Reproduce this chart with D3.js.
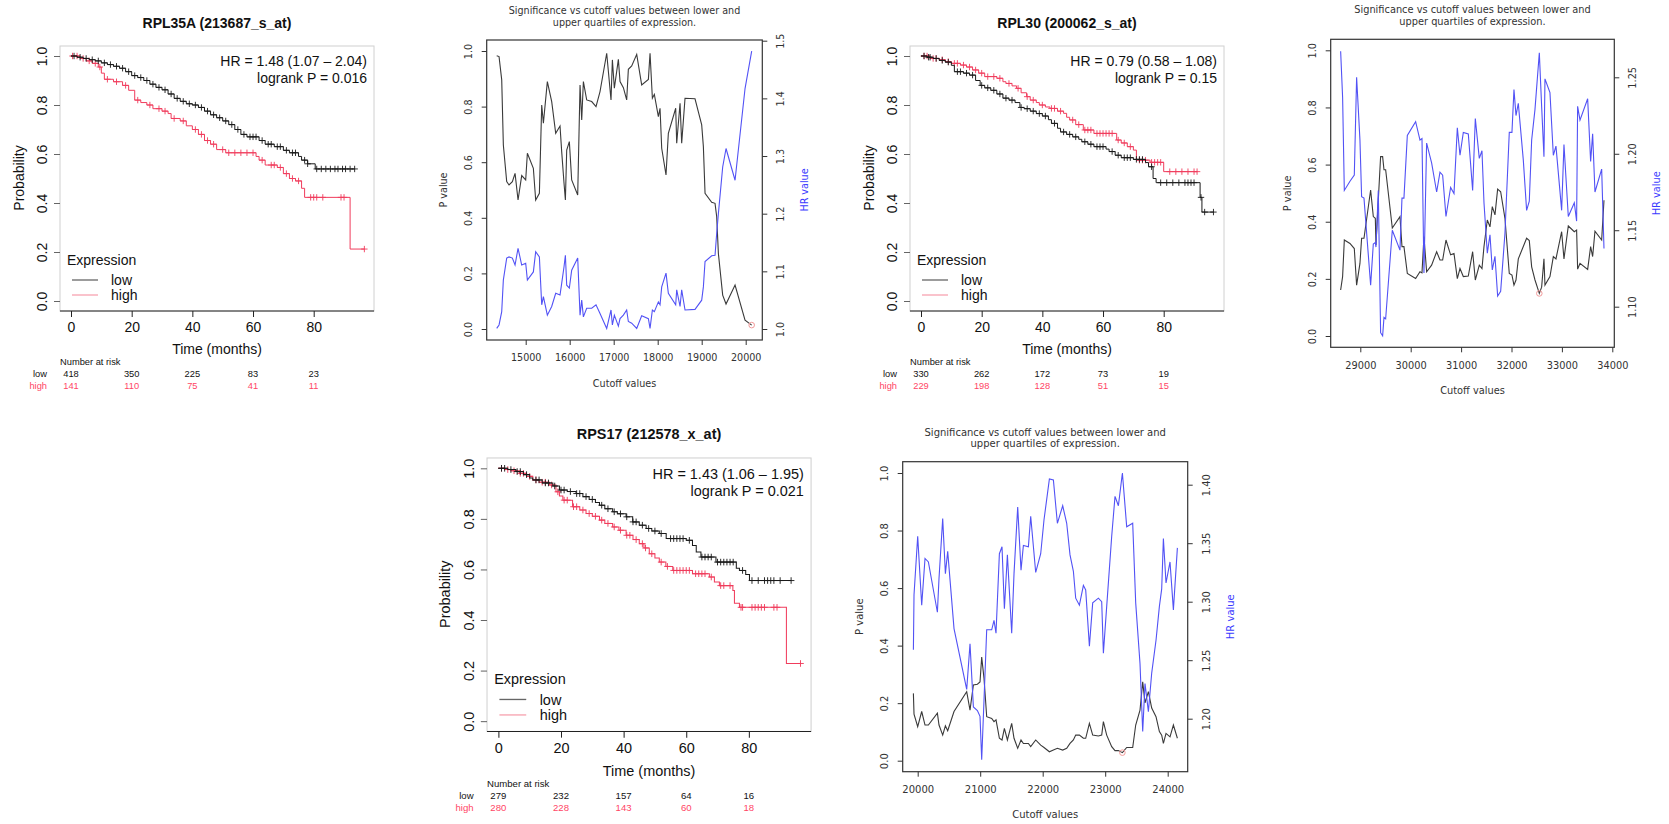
<!DOCTYPE html>
<html>
<head>
<meta charset="utf-8">
<title>Survival plots and cutoff scans</title>
<script src="https://d3js.org/d3.v7.min.js"></script>
<style>
  body { margin: 0; background: #fff; }
  .km text { font-family: "Liberation Sans", Arial, sans-serif; fill: #111; }
  .cut text { font-family: "DejaVu Sans", sans-serif; fill: #333; }
</style>
</head>
<body>
<div id="chart"></div>
<script>

// ---------- Kaplan-Meier data: steps [months, survival], censor times ----------
var riskTimes = [0, 20, 40, 60, 80];
var kmTicksY = [0, 0.2, 0.4, 0.6, 0.8, 1];

var km1Title = "RPL35A (213687_s_at)";
var km1Stats = ["HR = 1.48 (1.07 \u2013 2.04)", "logrank P = 0.016"];
var km1Low = [[0,1],[2,0.995],[4,0.99],[6,0.985],[8,0.98],[10,0.972],[12,0.965],[14,0.958],[16,0.95],[18,0.936],[20,0.92],[22,0.912],[24,0.9],[26,0.885],[28,0.872],[30,0.862],[32,0.845],[34,0.827],[36,0.815],[38,0.805],[40,0.8],[42,0.79],[44,0.775],[46,0.76],[48,0.748],[50,0.735],[52,0.72],[54,0.7],[56,0.68],[58,0.67],[62,0.655],[64,0.64],[67,0.63],[70,0.615],[72,0.605],[75,0.59],[76,0.575],[78,0.56],[80.5,0.539]];
var km1LowCens = [1,3,5,7,9,11,13,15,17,19,21,23,25,27,29,31,33,35,37,39,41,43,45,47,49,51,53,55,57,59,60,61,63,65,66,68,69,71,73,74,77,78,81,82.5,84,85.5,87,88,89.5,90.5,92,93.5];
var km1High = [[0,1],[3,0.99],[5,0.98],[7,0.97],[9,0.955],[10,0.93],[11,0.905],[14,0.895],[17,0.88],[19,0.86],[21,0.82],[23,0.81],[25,0.8],[27,0.785],[30,0.775],[32,0.765],[33,0.745],[36,0.735],[38,0.715],[40,0.7],[42,0.68],[44,0.655],[46,0.64],[48,0.618],[51,0.605],[61,0.59],[62,0.575],[64,0.555],[68,0.545],[70,0.52],[72,0.5],[74,0.49],[76,0.46],[77,0.423],[92,0.212]];
var km1HighCens = [0.5,2,4,6,8,9.5,12,15,18,22,26,29,31,34,37,41,43,45,47,50,52,54,56,58,60,63,66,67,69,71,73,75,79,80,81,83,89,90,96.7];
var km1RiskLow = [418, 350, 225, 83, 23];
var km1RiskHigh = [141, 110, 75, 41, 11];

var km2Title = "RPL30 (200062_s_at)";
var km2Stats = ["HR = 0.79 (0.58 \u2013 1.08)", "logrank P = 0.15"];
var km2Low = [[0,1],[2,0.995],[4,0.99],[6,0.982],[8,0.975],[10,0.962],[11,0.936],[14,0.93],[16,0.922],[18,0.9],[19.5,0.88],[21,0.87],[23,0.86],[25,0.845],[27,0.828],[29,0.82],[31,0.81],[32.6,0.79],[34,0.785],[36,0.775],[38,0.765],[40,0.755],[42,0.74],[43,0.725],[45,0.705],[46,0.69],[48,0.68],[50,0.67],[52,0.66],[53,0.65],[55,0.64],[57,0.63],[61,0.62],[62,0.61],[64,0.595],[66,0.585],[70,0.578],[74,0.565],[75,0.548],[76.5,0.5],[77.5,0.483],[92,0.423],[92.6,0.363]];
var km2LowCens = [1,2.5,3,5,7,9,12,13,15,17,20,22,24,26,28,30,33,35,37,39,41,44,47,49,51,54,56,58,59,60,63,65,67,68,69,71,72,73,76,79,81,83,85,87,88,89,90,92.3,93.5,96.4];
var km2High = [[0,1],[3,0.99],[6,0.985],[8,0.977],[10,0.97],[13,0.963],[15,0.955],[17,0.943],[19,0.93],[21,0.916],[25,0.909],[27,0.895],[28,0.888],[30,0.878],[31.5,0.868],[33,0.85],[34.8,0.834],[36,0.82],[38,0.81],[39,0.8],[41,0.792],[42.5,0.786],[45,0.775],[47,0.766],[48,0.75],[49,0.739],[51,0.72],[53.5,0.698],[57,0.684],[64.5,0.657],[66,0.645],[68,0.63],[70,0.616],[71,0.575],[75.5,0.566],[80,0.528]];
var km2HighCens = [1,2,4,5,7,9,11,12,14,16,18,20,22,24,26,29,32,35,37,40,43,44,46,50,52,54,55,56,58,59,60,61,62,63,65,67,69,72,73,74,76,77,78,79,82,84,86,88,90,91];
var km2RiskLow = [330, 262, 172, 73, 19];
var km2RiskHigh = [229, 198, 128, 51, 15];

var km3Title = "RPS17 (212578_x_at)";
var km3Stats = ["HR = 1.43 (1.06 \u2013 1.95)", "logrank P = 0.021"];
var km3Low = [[0,1],[3,0.995],[5.6,0.987],[8,0.975],[10,0.962],[11,0.954],[14,0.942],[17.4,0.93],[19.5,0.914],[22,0.908],[24.8,0.9],[27,0.888],[29,0.877],[31,0.865],[32.3,0.854],[34,0.84],[36.5,0.828],[38,0.82],[40.8,0.808],[42.9,0.788],[45,0.775],[47.2,0.762],[49,0.752],[51.4,0.742],[53.6,0.722],[60,0.715],[62,0.695],[63.2,0.669],[64.7,0.649],[69.5,0.629],[76,0.605],[77,0.596],[79,0.58],[80.2,0.556]];
var km3LowCens = [1,2,4,6,7,9,12,13,15,16,18,20,21,23,25,26,28,30,33,35,37,39,41,43,44,46,48,50,52,55,56,57,58,59,61,65,66,67,68,70,71,72,73,74,75,78,81,83,85,86,87,88,90,93.5];
var km3High = [[0,1],[2,0.995],[4,0.99],[6.7,0.98],[9,0.968],[11,0.954],[13,0.945],[16.3,0.934],[18.4,0.907],[19.5,0.89],[20.6,0.874],[23.7,0.848],[26,0.835],[28,0.821],[30,0.81],[32.3,0.795],[34,0.782],[36.5,0.768],[38.5,0.755],[40.8,0.735],[43,0.718],[45,0.702],[46.5,0.685],[48.2,0.662],[50,0.645],[51.4,0.629],[53.5,0.612],[55.7,0.596],[62,0.583],[67.4,0.57],[69,0.55],[70.6,0.536],[74.9,0.517],[75.4,0.466],[77,0.45],[92,0.228]];
var km3HighCens = [1,3,5,7,8,10,12,14,15,17,19,21,22,24,25,27,29,31,33,35,37,39,41,42,44,46,47,49,52,54,56,57,58,59,60,61,63,64,65,66,68,71,72,74,77.5,78,81,82,83,84,85,88,89,96.5];
var km3RiskLow = [279, 232, 157, 64, 16];
var km3RiskHigh = [280, 228, 143, 60, 18];

// ---------- cutoff scans: cutoff value, logrank P, HR ----------
var cutTitle = ["Significance vs cutoff values between lower and", "upper quartiles of expression."];
var pTicks = [0, 0.2, 0.4, 0.6, 0.8, 1];

var cut1X = [14341,14394,14455,14492,14568,14621,14697,14758,14826,14909,15000,15038,15174,15227,15311,15364,15402,15492,15591,15682,15780,15818,15871,15902,15932,15992,16045,16182,16235,16273,16311,16386,16500,16598,16689,16841,16939,16970,17015,17106,17144,17220,17295,17333,17409,17523,17636,17788,17826,17879,17924,18015,18053,18091,18189,18242,18409,18432,18508,18545,18621,18848,19000,19038,19076,19227,19303,19341,19379,19477,19553,19758,19985,20136];
var cut1P = [0.983,0.98,0.896,0.662,0.53,0.518,0.53,0.56,0.464,0.552,0.536,0.632,0.578,0.464,0.488,0.806,0.74,0.89,0.818,0.704,0.73,0.638,0.524,0.464,0.644,0.674,0.536,0.482,0.878,0.752,0.89,0.824,0.818,0.8,0.854,0.992,0.824,0.968,0.866,0.97,0.89,0.868,0.824,0.934,0.946,0.988,0.878,0.898,0.992,0.83,0.844,0.764,0.794,0.65,0.554,0.704,0.794,0.668,0.812,0.668,0.83,0.828,0.734,0.656,0.488,0.456,0.452,0.404,0.272,0.122,0.09,0.158,0.032,0.014];
var cut1HR = [1.001,1.007,1.03,1.085,1.123,1.125,1.123,1.111,1.14,1.111,1.114,1.085,1.099,1.134,1.125,1.042,1.056,1.024,1.039,1.062,1.059,1.079,1.108,1.128,1.076,1.071,1.102,1.123,1.024,1.05,1.021,1.036,1.036,1.042,1.027,1.001,1.033,1.007,1.024,1.005,1.018,1.024,1.033,1.013,1.01,1.001,1.023,1.018,1.001,1.033,1.03,1.047,1.042,1.073,1.097,1.062,1.042,1.068,1.039,1.068,1.033,1.034,1.05,1.073,1.117,1.127,1.128,1.166,1.2,1.281,1.313,1.258,1.417,1.482];
var cut1Ticks = [15000, 16000, 17000, 18000, 19000, 20000];
var cut1HRTicks = [1.0, 1.1, 1.2, 1.3, 1.4, 1.5];

var cut2X = [28610,28649,28683,28795,28881,28927,28993,29026,29073,29205,29258,29298,29311,29357,29403,29443,29470,29503,29635,29787,29827,29866,29933,30098,30184,30224,30263,30316,30415,30515,30581,30634,30700,30792,30859,30925,30978,31044,31143,31229,31282,31361,31414,31454,31520,31573,31619,31672,31725,31785,31870,31956,32009,32049,32089,32135,32234,32300,32353,32400,32466,32552,32598,32644,32664,32763,32830,32882,32995,33041,33127,33246,33292,33312,33359,33511,33570,33610,33656,33789,33835];
var cut2P = [0.161,0.208,0.336,0.324,0.306,0.178,0.254,0.342,0.342,0.511,0.418,0.412,0.319,0.475,0.628,0.628,0.582,0.582,0.378,0.418,0.313,0.313,0.219,0.201,0.225,0.221,0.348,0.225,0.248,0.295,0.266,0.266,0.336,0.284,0.289,0.201,0.236,0.208,0.21,0.295,0.196,0.248,0.236,0.313,0.406,0.382,0.453,0.424,0.514,0.505,0.412,0.219,0.213,0.178,0.196,0.27,0.313,0.342,0.334,0.242,0.196,0.149,0.171,0.27,0.178,0.208,0.278,0.27,0.365,0.27,0.385,0.365,0.371,0.234,0.254,0.233,0.313,0.278,0.367,0.336,0.475];
var cut2HR = [1.267,1.237,1.176,1.182,1.186,1.25,1.209,1.172,1.171,1.114,1.141,1.142,1.139,1.176,1.083,1.081,1.093,1.092,1.15,1.137,1.171,1.171,1.212,1.221,1.209,1.21,1.122,1.207,1.194,1.175,1.188,1.186,1.159,1.178,1.174,1.217,1.199,1.214,1.213,1.176,1.223,1.197,1.202,1.168,1.135,1.147,1.124,1.133,1.107,1.11,1.148,1.214,1.214,1.242,1.225,1.233,1.196,1.163,1.169,1.209,1.229,1.266,1.231,1.198,1.249,1.24,1.199,1.205,1.163,1.206,1.159,1.168,1.156,1.231,1.222,1.236,1.195,1.213,1.175,1.19,1.138];
var cut2Ticks = [29000, 30000, 31000, 32000, 33000, 34000];
var cut2HRTicks = [1.10, 1.15, 1.20, 1.25];

var cut3X = [19931,19941,20000,20064,20117,20171,20315,20341,20400,20443,20480,20581,20784,20837,20891,20955,20997,21024,21061,21104,21184,21221,21253,21307,21349,21387,21435,21504,21541,21600,21653,21691,21771,21808,21888,21968,22021,22107,22171,22235,22320,22384,22437,22491,22528,22587,22651,22688,22747,22800,22891,22944,22971,23024,23104,23157,23211,23275,23344,23440,23488,23557,23600,23637,23691,23744,23813,23867,23904,23931,23973,24037,24091,24155];
var cut3P = [0.234,0.162,0.118,0.171,0.124,0.124,0.165,0.124,0.089,0.121,0.104,0.171,0.24,0.176,0.263,0.266,0.274,0.36,0.286,0.153,0.147,0.136,0.142,0.078,0.072,0.112,0.072,0.13,0.078,0.043,0.072,0.06,0.06,0.049,0.072,0.054,0.046,0.031,0.037,0.043,0.037,0.043,0.06,0.072,0.089,0.089,0.078,0.078,0.13,0.089,0.086,0.089,0.136,0.089,0.049,0.035,0.035,0.028,0.046,0.046,0.124,0.176,0.274,0.201,0.24,0.183,0.153,0.101,0.089,0.06,0.095,0.083,0.124,0.078];
var cut3HR = [1.259,1.306,1.356,1.297,1.337,1.334,1.291,1.32,1.371,1.324,1.343,1.277,1.225,1.264,1.21,1.207,1.202,1.165,1.216,1.276,1.276,1.284,1.273,1.341,1.347,1.294,1.34,1.273,1.324,1.381,1.327,1.348,1.347,1.373,1.325,1.341,1.37,1.405,1.404,1.367,1.382,1.367,1.34,1.326,1.303,1.297,1.314,1.31,1.262,1.299,1.303,1.3,1.256,1.296,1.356,1.39,1.382,1.41,1.364,1.367,1.299,1.247,1.189,1.23,1.206,1.239,1.267,1.296,1.311,1.354,1.316,1.334,1.293,1.346];
var cut3Ticks = [20000, 21000, 22000, 23000, 24000];
var cut3HRTicks = [1.20, 1.25, 1.30, 1.35, 1.40];

// colours
var lowCol = "#1a1a1a", highCol = "#f03c5c", pCol = "#3a3a3a", hrCol = "#5252f5";

var width = 1669, height = 824;
var svg = d3.select("#chart").append("svg")
    .attr("width", width)
    .attr("height", height);

// survival value of a step curve at time t
function survAt(steps, t) {
  var s = steps[0][1];
  steps.forEach(function(d) { if (d[0] <= t) s = d[1]; });
  return s;
}

// ---------- KM panel (drawn in panel-1 coordinates, then moved/scaled) ----------
function drawKM(p) {
  var g = svg.append("g").attr("class", "km")
      .attr("transform", "translate(" + p.ox + "," + p.oy + ") scale(" + p.k + ")");

  var x = d3.scaleLinear().domain([0, 80]).range([71, 313.7]);
  var y = d3.scaleLinear().domain([0, 1]).range([301, 56]);

  // light box, dark bottom edge
  g.append("rect").attr("x", 60).attr("y", 46).attr("width", 314).attr("height", 265)
      .attr("fill", "none").attr("stroke", "#d0d0d0");
  g.append("line").attr("x1", 60).attr("x2", 374).attr("y1", 311).attr("y2", 311)
      .attr("stroke", "#222");

  var xa = g.append("g").attr("transform", "translate(0,311)")
      .call(d3.axisBottom(x).tickValues(riskTimes).tickSize(6).tickPadding(5));
  xa.select(".domain").remove();
  xa.selectAll("line").attr("stroke", "#222");
  xa.selectAll("text").attr("font-size", 14);

  var ya = g.append("g").attr("transform", "translate(60,0)")
      .call(d3.axisLeft(y).tickValues(kmTicksY).tickSize(6).tickFormat(d3.format(".1f")));
  ya.select(".domain").remove();
  ya.selectAll("line").attr("stroke", "#666");
  ya.selectAll("text").attr("font-size", 14)
      .attr("x", 0).attr("y", -13).attr("dy", null)
      .attr("text-anchor", "middle").attr("transform", "rotate(-90)");

  g.append("text").attr("x", 217).attr("y", 28).attr("text-anchor", "middle")
      .attr("font-size", 14).attr("font-weight", "bold").text(p.title);
  g.append("text").attr("x", 217).attr("y", 354).attr("text-anchor", "middle")
      .attr("font-size", 14).text("Time (months)");
  g.append("text").attr("transform", "translate(24,178) rotate(-90)").attr("text-anchor", "middle")
      .attr("font-size", 14).text("Probability");

  p.stats.forEach(function(s, i) {
    g.append("text").attr("x", 367).attr("y", 66 + i * 17).attr("text-anchor", "end")
        .attr("font-size", 14).text(s);
  });

  var line = d3.line().x(function(d) { return x(d[0]); }).y(function(d) { return y(d[1]); });

  function curve(steps, cens, col) {
    var pts = [steps[0]];
    for (var i = 1; i < steps.length; i++) {
      pts.push([steps[i][0], steps[i - 1][1]]);
      pts.push(steps[i]);
    }
    var end = Math.max(d3.max(cens), steps[steps.length - 1][0]);
    pts.push([end, steps[steps.length - 1][1]]);
    g.append("path").attr("d", line(pts)).attr("fill", "none")
        .attr("stroke", col).attr("stroke-width", 1);
    g.append("g").selectAll("path").data(cens).enter().append("path")
        .attr("d", function(c) {
          var cx = x(c), cy = y(survAt(steps, c));
          return "M" + (cx - 3.2) + "," + cy + "H" + (cx + 3.2) + "M" + cx + "," + (cy - 3.2) + "V" + (cy + 3.2);
        })
        .attr("stroke", col).attr("stroke-width", 0.9);
  }
  curve(p.high, p.highCens, highCol);
  curve(p.low, p.lowCens, lowCol);

  // legend
  g.append("text").attr("x", 67).attr("y", 265).attr("font-size", 14).text("Expression");
  [["low", "#666", 280], ["high", "#f7a3b0", 295]].forEach(function(d) {
    g.append("line").attr("x1", 72).attr("x2", 98).attr("y1", d[2]).attr("y2", d[2])
        .attr("stroke", d[1]).attr("stroke-width", 1.3);
    g.append("text").attr("x", 111).attr("y", d[2] + 5).attr("font-size", 14).text(d[0]);
  });

  // number at risk
  g.append("text").attr("x", 60).attr("y", 365).attr("font-size", 9.3).text("Number at risk");
  [["low", p.riskLow, "#111", 376.5], ["high", p.riskHigh, "#ff4565", 388.5]].forEach(function(r) {
    g.append("text").attr("x", 47).attr("y", r[3]).attr("text-anchor", "end")
        .attr("font-size", 9.3).style("fill", r[2]).text(r[0]);
    g.append("g").selectAll("text").data(r[1]).enter().append("text")
        .attr("x", function(d, i) { return x(riskTimes[i]); })
        .attr("y", r[3]).attr("text-anchor", "middle")
        .attr("font-size", 9.3).style("fill", r[2])
        .text(function(d) { return d; });
  });
}

// ---------- cutoff scan panel ----------
function drawCut(p) {
  var g = svg.append("g").attr("class", "cut").attr("font-size", p.fs);
  var x = d3.scaleLinear().domain(p.xDom).range(p.xR);
  var yP = d3.scaleLinear().domain([0, 1]).range(p.pR);
  var yH = d3.scaleLinear().domain(p.hrDom).range(p.hrR);

  var xa = g.append("g").attr("transform", "translate(0," + p.y1 + ")")
      .call(d3.axisBottom(x).tickValues(p.xTicks).tickSize(5).tickPadding(9.5).tickFormat(d3.format("d")));
  var la = g.append("g").attr("transform", "translate(" + p.x0 + ",0)")
      .call(d3.axisLeft(yP).tickValues(pTicks).tickSize(5).tickFormat(d3.format(".1f")));
  var ra = g.append("g").attr("transform", "translate(" + p.x1 + ",0)")
      .call(d3.axisRight(yH).tickValues(p.hrTicks).tickSize(5).tickFormat(d3.format(p.hrFmt)));
  [xa, la, ra].forEach(function(a) {
    a.select(".domain").remove();
    a.attr("font-size", null).attr("font-family", null);
    a.selectAll("line").attr("stroke", "#333");
  });
  la.selectAll("text").attr("x", 0).attr("y", -14.5).attr("dy", null)
      .attr("text-anchor", "middle").attr("transform", "rotate(-90)");
  ra.selectAll("text").attr("x", 0).attr("y", 22).attr("dy", null)
      .attr("text-anchor", "middle").attr("transform", "rotate(-90)");

  g.append("rect").attr("x", p.x0).attr("y", p.y0)
      .attr("width", p.x1 - p.x0).attr("height", p.y1 - p.y0)
      .attr("fill", "none").attr("stroke", "#333").attr("stroke-width", 1.2);

  var cx = (p.x0 + p.x1) / 2;
  cutTitle.forEach(function(t, i) {
    g.append("text").attr("x", cx).attr("y", p.y0 - 26.2 + i * 11.7)
        .attr("text-anchor", "middle").text(t);
  });
  g.append("text").attr("x", cx).attr("y", p.y1 + 46.5).attr("text-anchor", "middle").text("Cutoff values");
  var my = (p.y0 + p.y1) / 2;
  g.append("text").attr("transform", "translate(" + (p.x0 - 39.5) + "," + my + ") rotate(-90)")
      .attr("text-anchor", "middle").text("P value");
  g.append("text").attr("transform", "translate(" + (p.x1 + 46) + "," + my + ") rotate(-90)")
      .attr("text-anchor", "middle").style("fill", "#3b3bff").text("HR value");

  var lineP = d3.line().x(function(d, i) { return x(p.xs[i]); }).y(function(d) { return yP(d); });
  var lineH = d3.line().x(function(d, i) { return x(p.xs[i]); }).y(function(d) { return yH(d); });
  g.append("path").attr("d", lineP(p.ps)).attr("fill", "none")
      .attr("stroke", pCol).attr("stroke-width", 1.1);
  g.append("path").attr("d", lineH(p.hrs)).attr("fill", "none")
      .attr("stroke", hrCol).attr("stroke-width", 1.1);

  var m = d3.minIndex(p.ps);
  g.append("circle").attr("cx", x(p.xs[m])).attr("cy", yP(p.ps[m])).attr("r", 2.8)
      .attr("fill", "none").attr("stroke", "#f29a9a").attr("stroke-width", 1);
}

drawKM({ ox: 0, oy: 0, k: 1, title: km1Title, stats: km1Stats,
  low: km1Low, lowCens: km1LowCens, high: km1High, highCens: km1HighCens,
  riskLow: km1RiskLow, riskHigh: km1RiskHigh });
drawKM({ ox: 850, oy: 0, k: 1, title: km2Title, stats: km2Stats,
  low: km2Low, lowCens: km2LowCens, high: km2High, highCens: km2HighCens,
  riskLow: km2RiskLow, riskHigh: km2RiskHigh });
drawKM({ ox: 425.1, oy: 410.5, k: 1.032, title: km3Title, stats: km3Stats,
  low: km3Low, lowCens: km3LowCens, high: km3High, highCens: km3HighCens,
  riskLow: km3RiskLow, riskHigh: km3RiskHigh });

drawCut({ x0: 486.7, y0: 40, x1: 762.3, y1: 340, fs: 9.6,
  xDom: [15000, 20000], xR: [525.7, 745.7], pR: [329, 51],
  hrDom: [1.0, 1.5], hrR: [329, 40.7], xTicks: cut1Ticks, hrTicks: cut1HRTicks, hrFmt: ".1f",
  xs: cut1X, ps: cut1P, hrs: cut1HR });
drawCut({ x0: 1330.7, y0: 39.3, x1: 1614.3, y1: 347.3, fs: 9.8,
  xDom: [29000, 34000], xR: [1360.3, 1612.3], pR: [336, 50.3],
  hrDom: [1.10, 1.25], hrR: [306.7, 77.3], xTicks: cut2Ticks, hrTicks: cut2HRTicks, hrFmt: ".2f",
  xs: cut2X, ps: cut2P, hrs: cut2HR });
drawCut({ x0: 902.7, y0: 461.7, x1: 1187.7, y1: 771.7, fs: 10,
  xDom: [20000, 24000], xR: [917.7, 1167.7], pR: [760.7, 473],
  hrDom: [1.20, 1.40], hrR: [718.7, 484.7], xTicks: cut3Ticks, hrTicks: cut3HRTicks, hrFmt: ".2f",
  xs: cut3X, ps: cut3P, hrs: cut3HR });

</script>
</body>
</html>
